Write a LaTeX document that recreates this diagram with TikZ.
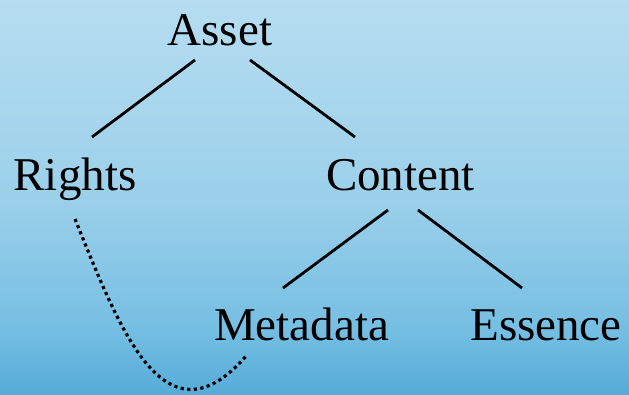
\documentclass[tikz,border=0pt]{standalone}
\usepackage{fontspec}
\setmainfont{Liberation Serif}
\definecolor{bgA}{HTML}{B6DDF1}
\definecolor{bgB}{HTML}{9BD0EA}
\definecolor{bgC}{HTML}{75BEE3}
\definecolor{bgD}{HTML}{55ACD8}
\begin{document}
\begin{tikzpicture}[x=1pt,y=-1pt,
  lbl/.style={anchor=base,inner sep=0pt,font=\fontsize{47}{56}\selectfont},
  edge/.style={line width=2.8pt},
  dotline/.style={line width=3.2pt,dash pattern=on 3.2pt off 3.4pt}]
\shade[top color=bgA,bottom color=bgB] (0,0) rectangle (629,200.5);
\shade[top color=bgB,bottom color=bgC] (0,200) rectangle (629,330.5);
\shade[top color=bgC,bottom color=bgD] (0,330) rectangle (629,394);
\useasboundingbox (0,0) rectangle (629,394);
\node[lbl] (asset) at (220,45) {Asset};
\node[lbl] (rights) at (75,190) {Rights};
\node[lbl] (content) at (400.5,190) {Content};
\node[lbl] (meta) at (301.5,340) {Metadata};
\node[lbl] (ess) at (546,340) {Essence};
\draw[edge] ([shift={(-25,15)}]asset.base) -- ([shift={(17,-53)}]rights.base);
\draw[edge] ([shift={(30,15)}]asset.base) -- ([shift={(-45.5,-53)}]content.base);
\draw[edge] ([shift={(-12.5,20)}]content.base) -- ([shift={(-18.5,-52)}]meta.base);
\draw[edge] ([shift={(17.5,20)}]content.base) -- ([shift={(-24,-52)}]ess.base);
\draw[dotline] ([shift={(0,29)}]rights.base) .. controls (120,330) and (165,450) .. ([shift={(-54.5,15)}]meta.base);
\end{tikzpicture}
\end{document}
